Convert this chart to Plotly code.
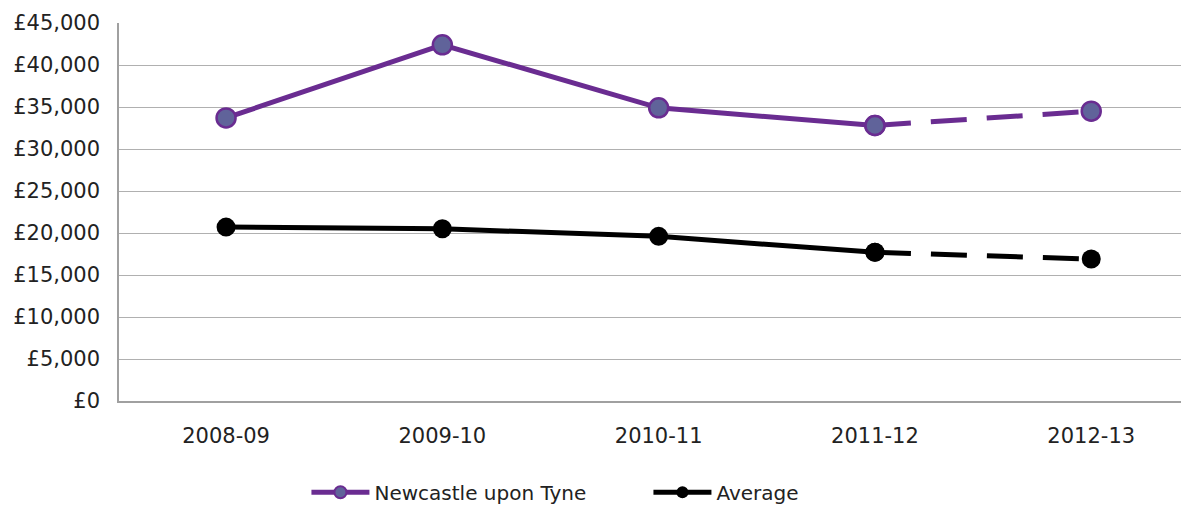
import plotly.graph_objects as go

# data
years = ['2008-09', '2009-10', '2010-11', '2011-12', '2012-13']
newcastle = [33700, 42400, 34900, 32800, 34500]
average = [20700, 20500, 19600, 17700, 16900]
y_ticks = [0, 5000, 10000, 15000, 20000, 25000, 30000, 35000, 40000, 45000]
y_labels = ['£0', '£5,000', '£10,000', '£15,000', '£20,000', '£25,000',
            '£30,000', '£35,000', '£40,000', '£45,000']

purple = '#6a2c91'
purple_fill = '#60639a'
font = 'DejaVu Sans'

fig = go.Figure()

# solid part (actuals) and dashed part (last year)
fig.add_trace(go.Scatter(x=years[:4], y=newcastle[:4], mode='lines+markers',
                         name='Newcastle upon Tyne', legendgroup='n',
                         line=dict(color=purple, width=5),
                         marker=dict(size=19, color=purple_fill,
                                     line=dict(color=purple, width=2.5))))
fig.add_trace(go.Scatter(x=years[3:], y=newcastle[3:], mode='lines',
                         showlegend=False, legendgroup='n',
                         line=dict(color=purple, width=5, dash='36px,20px')))
fig.add_trace(go.Scatter(x=years[3:], y=newcastle[3:], mode='markers',
                         showlegend=False, legendgroup='n',
                         marker=dict(size=19, color=purple_fill,
                                     line=dict(color=purple, width=2.5))))

fig.add_trace(go.Scatter(x=years[:4], y=average[:4], mode='lines+markers',
                         name='Average', legendgroup='a',
                         line=dict(color='black', width=5),
                         marker=dict(size=19, color='black')))
fig.add_trace(go.Scatter(x=years[3:], y=average[3:], mode='lines',
                         showlegend=False, legendgroup='a',
                         line=dict(color='black', width=5, dash='36px,20px')))
fig.add_trace(go.Scatter(x=years[3:], y=average[3:], mode='markers',
                         showlegend=False, legendgroup='a',
                         marker=dict(size=19, color='black')))

# the page adds an 8px body margin, so margins are shifted by 8px
fig.update_layout(
    width=1189, height=507,
    margin=dict(l=111, r=0, t=15, b=114),
    plot_bgcolor='white', paper_bgcolor='white',
    font=dict(family=font, size=21, color='#222222'),
    legend=dict(orientation='h', yref='container', y=0.045, yanchor='middle',
                x=0.251, xanchor='left', xref='container',
                font=dict(size=20), itemwidth=58, entrywidth=269,
                itemsizing='constant'),
)
fig.update_xaxes(type='category', range=[-0.495, 4.489], showgrid=False,
                 showline=True, linecolor='#a0a0a0', linewidth=1.5, ticks='',
                 ticklabelstandoff=15, automargin=False)
fig.update_yaxes(range=[0, 45000], tickvals=y_ticks, ticktext=y_labels,
                 showgrid=True, gridcolor='#b0b0b0', gridwidth=1.3,
                 showline=True, linecolor='#a0a0a0', linewidth=1.5,
                 zeroline=False, ticks='', ticklabelstandoff=13,
                 automargin=False)

fig.write_html('out.html')
